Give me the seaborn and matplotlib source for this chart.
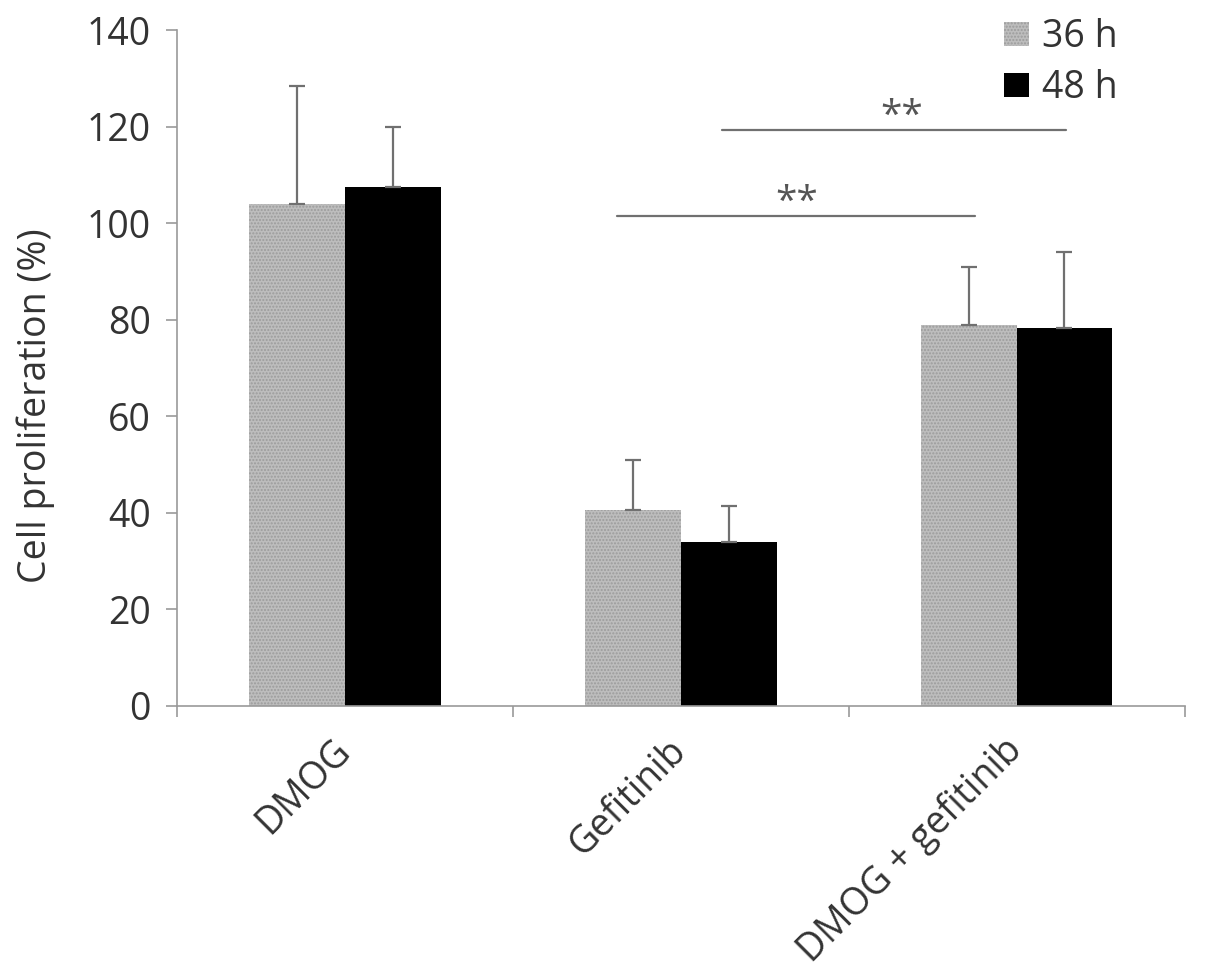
import pandas as pd
import numpy as np
import matplotlib.pyplot as plt
import seaborn as sns
from matplotlib.patches import Patch

sns.set_style("white")
plt.rcParams['font.family'] = ['Open Sans', 'DejaVu Sans']

# --- dados ---
groups = ['DMOG', 'Gefitinib', 'DMOG + gefitinib']
times = ['36 h', '48 h']
mean_36h = [104.0, 40.6, 78.9]
mean_48h = [107.5, 33.9, 78.3]
sd_36h = [24.4, 10.4, 12.0]
sd_48h = [12.4, 7.5, 15.7]

# linhas de significância (Gefitinib vs DMOG + gefitinib)
sig_x0 = [0.81, 1.122]
sig_x1 = [1.875, 2.146]
sig_y = [101.6, 119.3]
sig_star_x = [1.345, 1.658]
sig_text = ['**', '**']

df = pd.DataFrame({
    'group': groups * 2,
    'time': [times[0]] * 3 + [times[1]] * 3,
    'value': mean_36h + mean_48h,
})
errs = {times[0]: sd_36h, times[1]: sd_48h}

fig = plt.figure(figsize=(12.05, 9.75), dpi=100)
ax = fig.add_axes([0.147, 0.276, 0.836, 0.693])

palette = {'36 h': '#bdbdbd', '48 h': '#000000'}
sns.barplot(data=df, x='group', y='value', hue='time', palette=palette,
            width=0.57, errorbar=None, ax=ax, saturation=1, legend=False)

# padrão pontilhado nas barras de 36 h
for bar in ax.containers[0]:
    bar.set_hatch('.....')
    bar.set_edgecolor('#9c9c9c')
    bar.set_linewidth(0)
for bar in ax.containers[1]:
    bar.set_edgecolor('black')
    bar.set_linewidth(0)

# barras de erro (só para cima)
for cont, t in zip(ax.containers, times):
    xs = [b.get_x() + b.get_width() / 2 for b in cont]
    hs = [b.get_height() for b in cont]
    ax.errorbar(xs, hs, yerr=[np.zeros(len(hs)), errs[t]], fmt='none',
                ecolor='#707070', elinewidth=1.6, capsize=6, capthick=1.6, zorder=3)

for x0, x1, y, sx, txt in zip(sig_x0, sig_x1, sig_y, sig_star_x, sig_text):
    ax.plot([x0, x1], [y, y], color='#707070', linewidth=1.6)
    ax.text(sx, y + 0.6, txt, ha='center', va='baseline',
            fontsize=28, color='#555555')

ax.set_ylim(0, 140)
ax.set_xlim(-0.5, 2.5)
ax.set_yticks(range(0, 141, 20))
ax.tick_params(axis='y', labelsize=27, labelcolor='#333333', length=8,
               color='#999999', width=1.2, direction='out', left=True, pad=11)
ax.set_xticks(range(3))
ax.set_xticklabels(groups, rotation=45, ha='right', va='center',
                   rotation_mode='anchor', fontsize=27, color='#333333')
ax.tick_params(axis='x', length=0, pad=28)
ax.set_xticks([-0.5, 0.5, 1.5, 2.5], minor=True)
ax.tick_params(axis='x', which='minor', length=8, color='#999999', width=1.2,
               direction='out', bottom=True)

ax.set_xlabel('')
ax.set_ylabel('Cell proliferation (%)', fontsize=27, color='#333333')
ax.yaxis.set_label_coords(-0.121, 0.444)

sns.despine(ax=ax)
for side in ['left', 'bottom']:
    ax.spines[side].set_color('#999999')
    ax.spines[side].set_linewidth(1.2)

handles = [Patch(facecolor='#bdbdbd', edgecolor='#9c9c9c', hatch='.....', linewidth=0),
           Patch(facecolor='black', edgecolor='black', linewidth=0)]
leg = ax.legend(handles, times, loc='upper right', bbox_to_anchor=(0.967, 1.068),
                frameon=False, fontsize=27, handlelength=0.65, handleheight=0.6,
                handletextpad=0.35, labelspacing=0.35)
for t in leg.get_texts():
    t.set_color('#333333')

plt.savefig('out.png', dpi=100)
plt.close()
